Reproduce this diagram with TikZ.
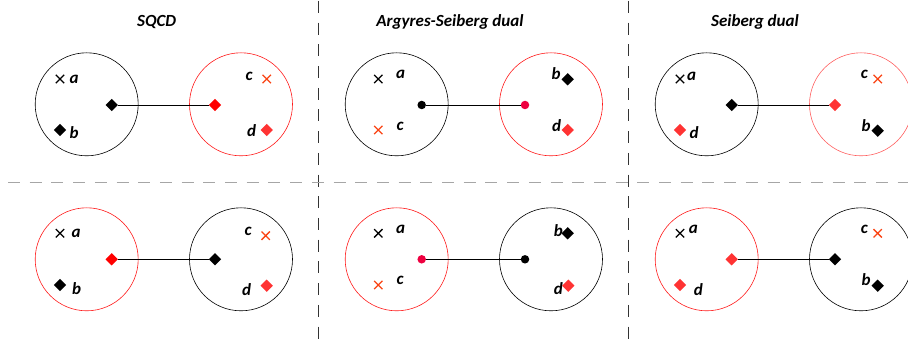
\documentclass[tikz,border=0pt]{standalone}
\usepackage{fontspec}
\setmainfont{Carlito}
\usetikzlibrary{shapes.geometric,shapes.misc}
\definecolor{redline}{HTML}{FF1A1A}
\definecolor{palered}{HTML}{FF6060}
\definecolor{redmark}{HTML}{FF3333}
\definecolor{redcross}{HTML}{FA4414}
\definecolor{reddot}{HTML}{EE0040}
\begin{document}
\begin{tikzpicture}[x=1pt,y=-1pt,
circ/.style={circle,draw,minimum size=103pt,inner sep=0pt,line width=0.6pt},
dia/.style={diamond,fill,inner sep=0pt,minimum size=12.5pt},
blob/.style={circle,fill,inner sep=0pt,minimum size=8.5pt},
crs/.style={cross out,draw,inner sep=0pt,minimum size=7pt,line width=1.3pt},
lbl/.style={font=\bfseries\itshape\fontsize{17}{17}\selectfont,inner sep=0pt},
ttl/.style={font=\bfseries\itshape\fontsize{17}{17}\selectfont,inner sep=0pt},
link/.style={line width=0.8pt},
sep/.style={dash pattern=on 12pt off 9.7pt,line width=0.9pt}]
\useasboundingbox (0,0) rectangle (908,339);
\clip (0,0) rectangle (908,339);
% separators
\draw[sep,black!80] (318.3,1) -- (318.3,339);
\draw[sep,black!80] (628.3,1) -- (628.3,339);
\draw[sep,gray!70] (8,182.3) -- (908,182.3);
% titles
\node[ttl] (tSQCD) at (156.7,21.7) {SQCD};
\node[ttl] (tAS) at (450,21.7) {Argyres-Seiberg dual};
\node[ttl] (tS) at (755,21.7) {Seiberg dual};
%%% top row
% SQCD
\node[circ] (aL) at (86.7,104.3) {};
\node[circ,redline] (aR) at (241,104.3) {};
\node[crs] (aa) at (60,79) {};
\node[lbl] at (74,79) {a};
\node[dia] (aq) at (111.7,105) {};
\node[dia] (ab) at (60,130) {};
\node[lbl] at (74,133) {b};
\node[lbl] at (249,76) {c};
\node[crs,redcross] (ac) at (266.7,79) {};
\node[dia,red] (aqt) at (215,105) {};
\node[lbl] at (251.7,130.7) {d};
\node[dia,redmark] (ad) at (266.7,130) {};
\draw[link] (aq) -- (aqt);
% Argyres-Seiberg dual
\node[circ] (bL) at (396.7,104.3) {};
\node[circ,redline] (bR) at (551,104.3) {};
\node[crs] (ba) at (378.3,79) {};
\node[lbl] at (400.7,74) {a};
\node[blob] (bq) at (421.7,105) {};
\node[crs,redcross] (bc) at (378.3,130) {};
\node[lbl] at (400,126) {c};
\node[lbl] at (556,74) {b};
\node[dia] (bb) at (567.7,79.3) {};
\node[blob,reddot] (bqt) at (525,105) {};
\node[lbl] at (556.7,126) {d};
\node[dia,redmark] (bd) at (567.7,130) {};
\draw[link] (bq) -- (bqt);
% Seiberg dual
\node[circ] (cL) at (706.7,104.3) {};
\node[circ,palered] (cR) at (861,104.3) {};
\node[crs] (ca) at (680,79) {};
\node[lbl] at (691.7,76.7) {a};
\node[dia] (cq) at (731.7,105) {};
\node[dia,redmark] (cd) at (680,130) {};
\node[lbl] at (694,133) {d};
\node[lbl] at (864.3,74) {c};
\node[crs,redcross] (cc) at (877.7,79) {};
\node[dia,redmark] (cqt) at (835,105) {};
\node[lbl] at (866,126) {b};
\node[dia] (cb) at (877.7,130.7) {};
\draw[link] (cq) -- (cqt);
%%% bottom row
% SQCD
\node[circ,redline] (dL) at (86.7,259.3) {};
\node[circ] (dR) at (241,259.3) {};
\node[crs] (da) at (60,233.3) {};
\node[lbl] at (76,233.3) {a};
\node[dia,red] (dq) at (111.7,259.3) {};
\node[dia] (db) at (60,285) {};
\node[lbl] at (76.7,289) {b};
\node[lbl] at (248,231.7) {c};
\node[crs,redcross] (dc) at (265.7,235.7) {};
\node[dia] (dqt) at (215,259.3) {};
\node[lbl] at (246.7,289.3) {d};
\node[dia,redmark] (dd) at (266.7,285.7) {};
\draw[link] (dq) -- (dqt);
% Argyres-Seiberg dual
\node[circ,redline] (eL) at (396.7,259.3) {};
\node[circ] (eR) at (551,259.3) {};
\node[crs] (ea) at (378.3,233.3) {};
\node[lbl] at (400.7,229) {a};
\node[blob,reddot] (eq) at (421.7,259.3) {};
\node[crs,redcross] (ec) at (378.3,285) {};
\node[lbl] at (400,280) {c};
\node[lbl] at (558.3,231) {b};
\node[dia] (eb) at (567.7,233.3) {};
\node[blob] (eqt) at (525,259.3) {};
\node[lbl] at (558.3,288.3) {d};
\node[dia,redmark] (ed) at (568.3,285.7) {};
\draw[link] (eq) -- (eqt);
% Seiberg dual
\node[circ,redline] (fL) at (706.7,259.3) {};
\node[circ] (fR) at (861,259.3) {};
\node[crs] (fa) at (680,233.3) {};
\node[lbl] at (693.3,229) {a};
\node[dia,redmark] (fq) at (731.7,259.3) {};
\node[dia,redmark] (fd) at (680,285) {};
\node[lbl] at (698.3,289.3) {d};
\node[lbl] at (864.3,229) {c};
\node[crs,redcross] (fc) at (877.7,233.3) {};
\node[dia] (fqt) at (835,259.3) {};
\node[lbl] at (866,280) {b};
\node[dia] (fb) at (877.7,285.7) {};
\draw[link] (fq) -- (fqt);
\end{tikzpicture}
\end{document}
